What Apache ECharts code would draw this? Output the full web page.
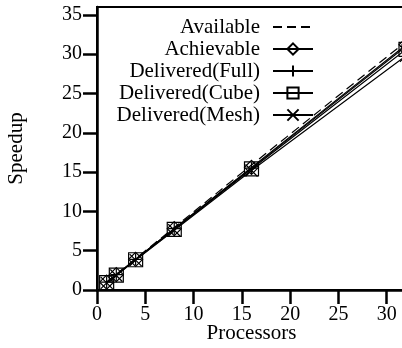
<!DOCTYPE html>
<html>
<head>
<meta charset="utf-8">
<script src="https://cdn.jsdelivr.net/npm/echarts@6/dist/echarts.min.js"></script>
<style>
  html, body { margin: 0; padding: 0; background: #fff; }
  #chart { width: 402px; height: 348px; }
</style>
</head>
<body>
<div id="chart"></div>
<script>
// Processor counts and measured speedups
const processors = [1, 2, 4, 8, 16, 32];
const available = [1, 2, 4, 7.95, 15.9, 31.6];
const achievable = [1, 1.95, 3.9, 7.8, 15.6, 31.2];
const deliveredFull = [1, 1.95, 3.9, 7.8, 15.5, 31.0];
const deliveredCube = [0.95, 1.9, 3.85, 7.7, 15.4, 30.6];
const deliveredMesh = [0.9, 1.85, 3.8, 7.6, 15.2, 29.8];

const xTicks = [0, 5, 10, 15, 20, 25, 30];
const yTicks = [0, 5, 10, 15, 20, 25, 30, 35];

const FONT = '"Liberation Serif", "Times New Roman", serif';

const pts = ys => processors.map((p, i) => [p, ys[i]]);

const plusPath = 'path://M6,0L6,12M0,6L12,6';
const crossPath = 'path://M0,0L12,12M12,0L0,12';

function series(name, data, symbol, size, dashed) {
  return {
    name: name,
    type: 'line',
    data: pts(data),
    symbol: symbol,
    symbolSize: size,
    showSymbol: symbol !== 'none',
    lineStyle: { color: '#000', width: 1.2, type: dashed ? [9, 5] : 'solid' },
    itemStyle: { color: 'rgba(0,0,0,0)', borderColor: '#000', borderWidth: 1.2 },
    emphasis: { disabled: true },
    animation: false
  };
}

const chart = echarts.init(document.getElementById('chart'), null, { renderer: 'canvas' });
chart.setOption({
  backgroundColor: '#fff',
  animation: false,
  grid: {
    left: 97, top: 7, bottom: 58, right: -4,
    outerBoundsMode: 'none',
    containLabel: false,
    show: true, borderColor: '#000', borderWidth: 2, backgroundColor: 'transparent'
  },
  legend: {
    orient: 'vertical',
    right: 83,
    top: 11,
    align: 'right',
    itemWidth: 40,
    itemHeight: 14,
    itemGap: 0,
    textStyle: { fontFamily: FONT, fontSize: 21, color: '#000', lineHeight: 22, padding: [0, 8, 0, 0] },
    inactiveColor: '#000',
    selectedMode: false,
    data: [
      { name: 'Available', itemStyle: { borderWidth: 0, borderColor: 'rgba(0,0,0,0)', color: 'rgba(0,0,0,0)' } },
      'Achievable', 'Delivered(Full)', 'Delivered(Cube)', 'Delivered(Mesh)'
    ]
  },
  xAxis: {
    type: 'value',
    min: 0, max: 32,
    name: 'Processors',
    nameLocation: 'middle',
    nameGap: 33,
    nameMoveOverlap: false,
    nameTextStyle: { fontFamily: FONT, fontSize: 21, color: '#000' },
    axisLine: { show: true, lineStyle: { color: '#000', width: 2.5 } },
    axisTick: { show: true, inside: false, length: 14, lineStyle: { color: '#000', width: 2.5 }, customValues: xTicks },
    axisLabel: { fontFamily: FONT, fontSize: 20, color: '#000', margin: 15, customValues: xTicks },
    splitLine: { show: false }
  },
  yAxis: {
    type: 'value',
    min: 0, max: 36,
    name: 'Speedup',
    nameLocation: 'middle',
    nameGap: 70,
    nameMoveOverlap: false,
    nameRotate: 90,
    nameTextStyle: { fontFamily: FONT, fontSize: 21, color: '#000' },
    axisLine: { show: true, lineStyle: { color: '#000', width: 2.5 } },
    axisTick: { show: true, inside: false, length: 14, lineStyle: { color: '#000', width: 2.5 }, customValues: yTicks },
    axisLabel: { fontFamily: FONT, fontSize: 20, color: '#000', margin: 15, customValues: yTicks },
    splitLine: { show: false }
  },
  series: [
    series('Available', available, 'none', 0, true),
    series('Achievable', achievable, 'diamond', 14, false),
    series('Delivered(Full)', deliveredFull, plusPath, 12, false),
    series('Delivered(Cube)', deliveredCube, 'rect', 14, false),
    series('Delivered(Mesh)', deliveredMesh, crossPath, 12, false)
  ]
});
</script>
</body>
</html>
